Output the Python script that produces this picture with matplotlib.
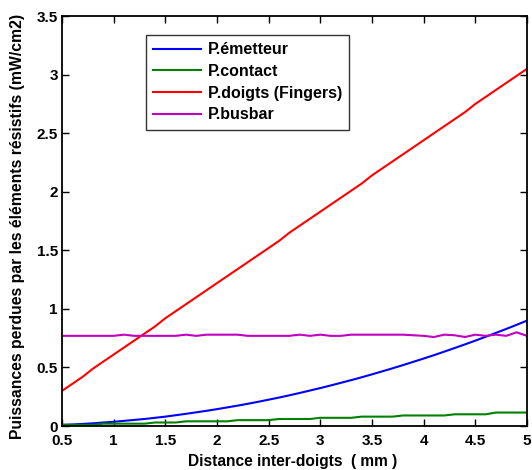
import matplotlib
matplotlib.use('Agg')
import matplotlib.pyplot as plt
import numpy as np

plt.rcParams['font.family'] = ['Liberation Sans', 'DejaVu Sans']
plt.rcParams['font.weight'] = 'bold'

# distance inter-doigts (mm)
x_mm = [0.5, 0.6, 0.7, 0.8, 0.9, 1.0, 1.1, 1.2, 1.3, 1.4,
        1.5, 1.6, 1.7, 1.8, 1.9, 2.0, 2.1, 2.2, 2.3, 2.4,
        2.5, 2.6, 2.7, 2.8, 2.9, 3.0, 3.1, 3.2, 3.3, 3.4,
        3.5, 3.6, 3.7, 3.8, 3.9, 4.0, 4.1, 4.2, 4.3, 4.4,
        4.5, 4.6, 4.7, 4.8, 4.9, 5.0]

p_emetteur = [0.010, 0.013, 0.018, 0.023, 0.030, 0.036, 0.044, 0.052, 0.060, 0.070,
              0.080, 0.092, 0.104, 0.117, 0.130, 0.144, 0.159, 0.174, 0.190, 0.207,
              0.225, 0.243, 0.262, 0.282, 0.303, 0.324, 0.346, 0.369, 0.392, 0.416,
              0.441, 0.467, 0.493, 0.520, 0.548, 0.576, 0.605, 0.635, 0.666, 0.697,
              0.729, 0.762, 0.795, 0.829, 0.864, 0.900]

p_contact = [0.010, 0.010, 0.010, 0.010, 0.020, 0.020, 0.020, 0.020, 0.020, 0.030,
             0.030, 0.030, 0.040, 0.040, 0.040, 0.040, 0.040, 0.050, 0.050, 0.050,
             0.050, 0.060, 0.060, 0.060, 0.060, 0.070, 0.070, 0.070, 0.070, 0.080,
             0.080, 0.080, 0.080, 0.090, 0.090, 0.090, 0.090, 0.090, 0.100, 0.100,
             0.100, 0.100, 0.115, 0.115, 0.115, 0.115]

p_doigts = [0.30, 0.36, 0.42, 0.49, 0.55, 0.61, 0.67, 0.73, 0.79, 0.85,
            0.92, 0.98, 1.04, 1.10, 1.16, 1.22, 1.28, 1.34, 1.40, 1.46,
            1.52, 1.58, 1.65, 1.71, 1.77, 1.83, 1.89, 1.95, 2.01, 2.07,
            2.14, 2.20, 2.26, 2.32, 2.38, 2.44, 2.50, 2.56, 2.62, 2.68,
            2.75, 2.81, 2.87, 2.93, 2.99, 3.05]

p_busbar = [0.770, 0.770, 0.770, 0.770, 0.770, 0.770, 0.780, 0.770, 0.770, 0.770,
            0.770, 0.770, 0.780, 0.770, 0.780, 0.780, 0.780, 0.780, 0.770, 0.770,
            0.770, 0.770, 0.770, 0.780, 0.770, 0.780, 0.770, 0.770, 0.780, 0.780,
            0.780, 0.780, 0.780, 0.780, 0.775, 0.770, 0.760, 0.780, 0.775, 0.760,
            0.780, 0.770, 0.780, 0.770, 0.800, 0.770]

labels = ['P.émetteur', 'P.contact', 'P.doigts (Fingers)', 'P.busbar']
colors = ['#0000ff', '#008000', '#ff0000', '#bf00bf']

fig = plt.figure(figsize=(5.32, 4.70), dpi=100, facecolor='white')
ax = fig.add_axes([0.1165, 0.0936, 0.874, 0.872])

series = [p_emetteur, p_contact, p_doigts, p_busbar]
for ys, lab, c in zip(series, labels, colors):
    ax.plot(x_mm, ys, color=c, linewidth=1.5, label=lab)

ax.set_xlim(0.5, 5)
ax.set_ylim(0, 3.5)
ax.set_xticks([0.5, 1, 1.5, 2, 2.5, 3, 3.5, 4, 4.5, 5])
ax.set_xticklabels(['0.5', '1', '1.5', '2', '2.5', '3', '3.5', '4', '4.5', '5'])
ax.set_yticks([0, 0.5, 1, 1.5, 2, 2.5, 3, 3.5])
ax.set_yticklabels(['0', '0.5', '1', '1.5', '2', '2.5', '3', '3.5'])
ax.tick_params(direction='in', top=True, right=True, length=5, width=1,
               labelsize=11)
ax.tick_params(axis='x', pad=5.5)
ax.tick_params(axis='y', pad=3)
for lbl in ax.get_xticklabels() + ax.get_yticklabels():
    lbl.set_fontweight('bold')
for sp in ax.spines.values():
    sp.set_linewidth(1.3)

ax.set_xlabel('Distance inter-doigts  ( mm )', fontsize=11.2, fontweight='bold')
ax.xaxis.set_label_coords(0.496, -0.068)
ax.set_ylabel('Puissances perdues par les éléments résistifs (mW/cm2)',
              fontsize=11.3, fontweight='bold')
ax.yaxis.set_label_coords(-0.0796, 0.488)

leg = ax.legend(loc='upper left', bbox_to_anchor=(0.181, 0.954), fontsize=11.5,
                frameon=True, fancybox=False, borderpad=0.45, labelspacing=0.42,
                handlelength=3.0, handletextpad=0.4, borderaxespad=0)
leg.get_frame().set_edgecolor('black')
leg.get_frame().set_linewidth(1.0)
for t in leg.get_texts():
    t.set_fontweight('bold')

fig.savefig('out.png', dpi=100)
